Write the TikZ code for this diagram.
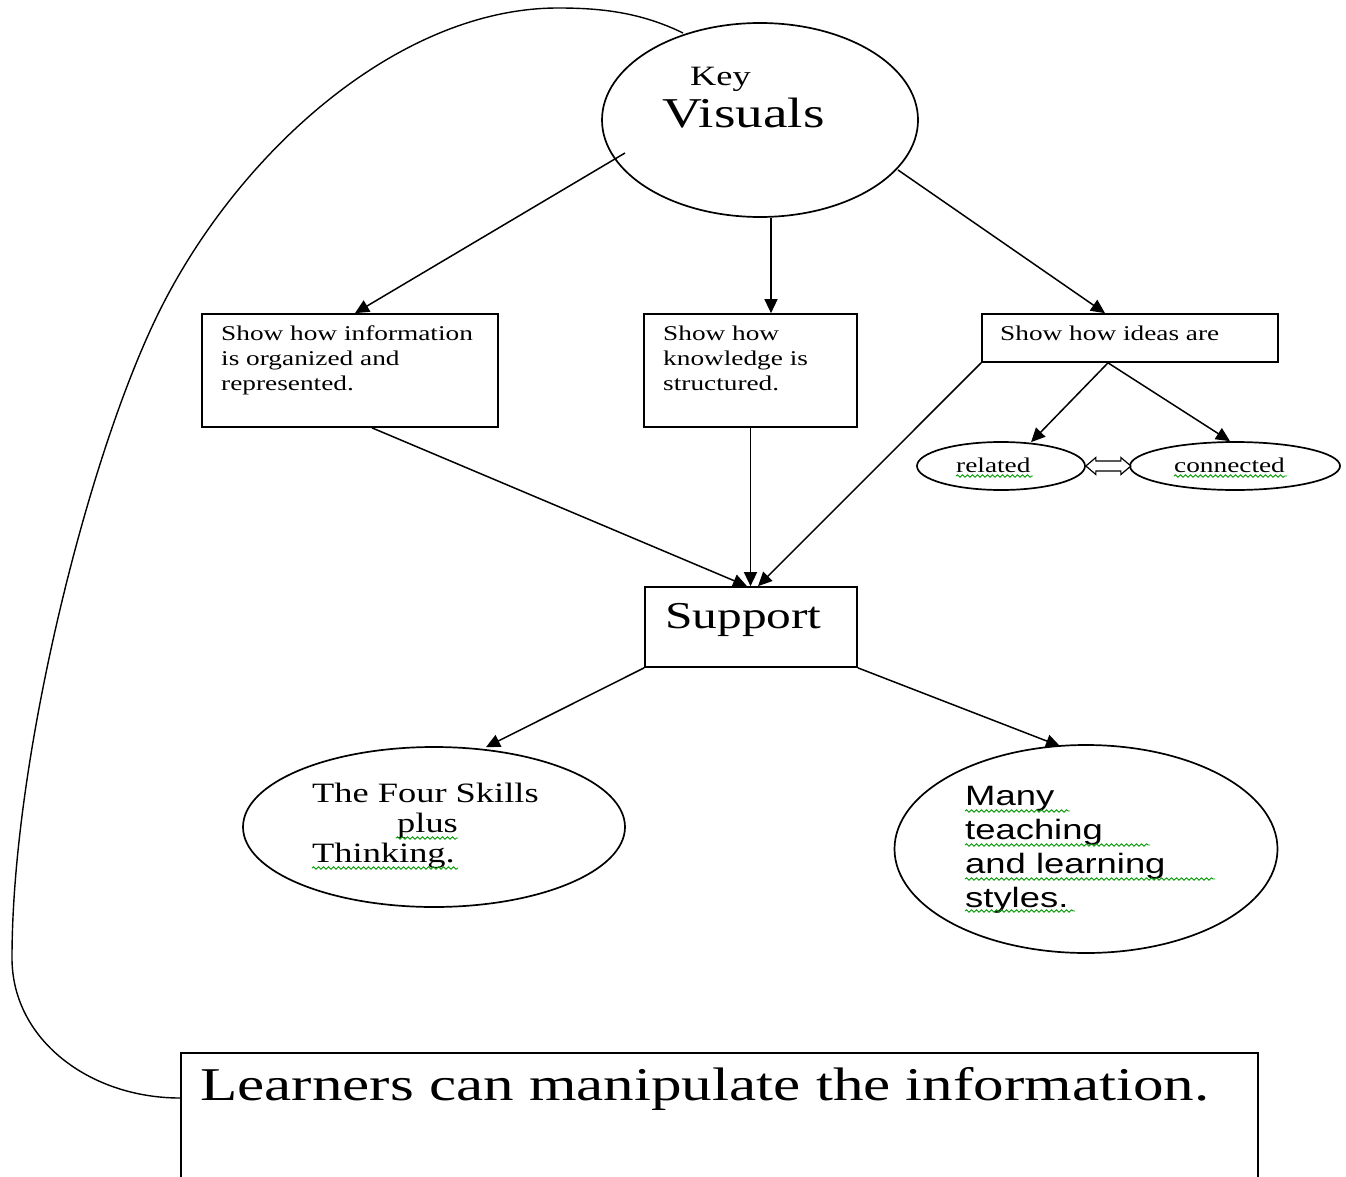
\documentclass[tikz,border=0pt]{standalone}
\usepackage{fontspec}
\setmainfont{Liberation Serif}[FakeStretch=1.3]
\newfontfamily\sansf{Liberation Sans}[FakeStretch=1.3]
\usetikzlibrary{arrows.meta,calc,shapes.geometric,decorations.pathmorphing}
\tikzset{
 outline/.style={draw=black, line width=1.7pt},
 ell/.style={outline, ellipse, inner sep=0pt},
 boxnode/.style={outline, rectangle, inner sep=0pt},
 lbl/.style={anchor=base west, inner sep=0pt},
 small/.style={lbl, font=\fontsize{21}{25}\selectfont},
 mid/.style={lbl, font=\fontsize{28}{34}\selectfont},
 sanslbl/.style={lbl, font=\sansf\fontsize{28}{34}\selectfont},
 conn/.style={line width=1.5pt, -{Triangle[length=14pt,width=13pt]}},
 squig/.style={draw=green!60!black, line width=0.9pt, decorate, decoration={snake, segment length=5pt, amplitude=1.2pt}},
}
\begin{document}
\begin{tikzpicture}[x=1pt,y=-1pt]
\clip (0,0) rectangle (1346,1177);
\fill[white] (0,0) rectangle (1346,1177);

% shapes
\node[ell, minimum width=316pt, minimum height=194pt] (kv) at (760,120) {};
\node[boxnode, minimum width=296pt, minimum height=113pt] (b1) at (350,370.5) {};
\node[boxnode, minimum width=213pt, minimum height=113pt] (b2) at (750.5,370.5) {};
\node[boxnode, minimum width=296pt, minimum height=48pt] (b3) at (1130,338) {};
\node[ell, minimum width=168pt, minimum height=48pt] (rel) at (1001,466) {};
\node[ell, minimum width=210pt, minimum height=48pt] (con) at (1235,466) {};
\node[boxnode, minimum width=212pt, minimum height=80pt] (sup) at (751,627) {};
\node[ell, minimum width=382pt, minimum height=160pt] (four) at (434,827) {};
\node[ell, minimum width=383pt, minimum height=208pt] (many) at (1086,849) {};
\node[boxnode, minimum width=1077pt, minimum height=170pt, anchor=north west] (learn) at (180,1052) {};

% texts
\node[lbl, font=\fontsize{28}{34}\selectfont] (tkey) at (690,86) {Key};
\node[lbl, font=\fontsize{42.5}{50}\selectfont] (tvis) at (662,128) {Visuals};
\node[small] (t11) at (221,340) {Show how information};
\node[small] (t12) at (221,365) {is organized and};
\node[small] (t13) at (221,390) {represented.};
\node[small] (t21) at (663,340) {Show how};
\node[small] (t22) at (663,365) {knowledge is};
\node[small] (t23) at (663,390) {structured.};
\node[small] (t31) at (1000,340) {Show how ideas are};
\node[small] (trel) at (956,472) {related};
\node[small] (tcon) at (1174,472) {connected};
\node[lbl, font=\fontsize{38}{44}\selectfont] (tsup) at (665,628) {Support};
\node[mid] (tf1) at (312,802) {The Four Skills};
\node[mid] (tf2) at (397,832) {plus};
\node[mid] (tf3) at (312,862) {Thinking.};
\node[sanslbl] (tm1) at (965,805) {Many};
\node[sanslbl] (tm2) at (965,839) {teaching};
\node[sanslbl] (tm3) at (965,873) {and learning};
\node[sanslbl] (tm4) at (965,907) {styles.};
\node[lbl, font=\fontsize{47}{54}\selectfont] (tlearn) at (200,1100) {Learners can manipulate the information.};

% spell-check squiggles
\draw[squig] (956,476) -- (1033,476);
\draw[squig] (1174,476) -- (1287,476);
\draw[squig] (396,838) -- (458,838);
\draw[squig] (312,868) -- (458,868);
\draw[squig] (965,811) -- (1070,811);
\draw[squig] (965,845) -- (1150,845);
\draw[squig] (965,879) -- (1215,879);
\draw[squig] (965,911) -- (1075,911);

% connectors
\draw[conn] ($(kv.center)+(-135,33)$) -- ([xshift=5pt]b1.north);
\draw[conn] ([xshift=11pt]kv.south) -- ([xshift=20.5pt]b2.north);
\draw[conn] ($(kv.center)+(138,50)$) -- ([xshift=-25pt]b3.north);
\draw[conn] ([xshift=-22pt]b3.south) -- ($(rel.north)+(30,1)$);
\draw[conn] ([xshift=-22pt]b3.south) -- ($(con.north)+(-5,0)$);
\draw[conn] ([xshift=22pt]b1.south) -- ([xshift=-4pt]sup.north);
\draw[conn] (b2.south) -- (b2.south |- sup.north);
\draw[conn] (b3.south west) -- ([xshift=7pt]sup.north);
\draw[conn] (sup.south west) -- ($(four.north)+(52,1)$);
\draw[conn] (sup.south east) -- ($(many.north)+(-26,2)$);

% double arrow between related and connected
\draw[line width=1.2pt, fill=white] (rel.east) -- ++(10,-8.5) -- ++(0,3.5) -- ++(25,0) -- ++(0,-3.5) -- ++(10,8.5) -- ++(-10,8.5) -- ++(0,-3.5) -- ++(-25,0) -- ++(0,3.5) -- cycle;

% big curve from Key Visuals to learners box
\draw[line width=1.4pt] ($(kv.center)+(-77,-87)$) .. controls (640,12) and (600,8) .. (558,8)
  .. controls (400,8) and (240,150) .. (160,310)
  .. controls (88,454) and (12,760) .. (12,958)
  .. controls (12,1040) and (90,1098) .. ($(learn.north west)+(0,46)$);
\end{tikzpicture}
\end{document}
